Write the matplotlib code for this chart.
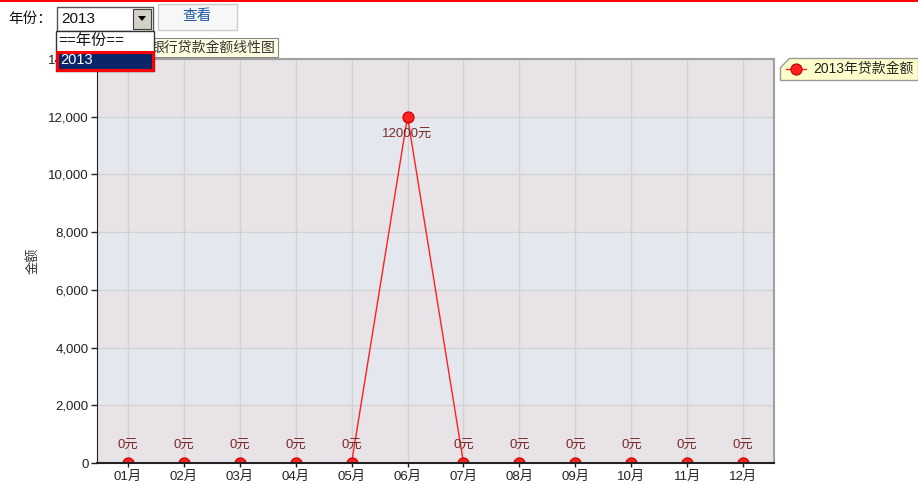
import matplotlib.pyplot as plt
from matplotlib.patches import Rectangle, Polygon
from matplotlib.lines import Line2D

plt.rcParams['font.family'] = ['Liberation Sans', 'Noto Sans CJK SC', 'DejaVu Sans']

# data
months = ['01月', '02月', '03月', '04月', '05月', '06月',
          '07月', '08月', '09月', '10月', '11月', '12月']
loan_2013 = [0, 0, 0, 0, 0, 12000, 0, 0, 0, 0, 0, 0]
y_ticks = [0, 2000, 4000, 6000, 8000, 10000, 12000, 14000]
series_name = '2013年贷款金额'

W, H = 918, 484
fig = plt.figure(figsize=(W / 100, H / 100), dpi=100)
fig.patch.set_facecolor('white')


def fx(px):
    return px / W


def fy(py):
    return 1 - py / H


ax = fig.add_axes([fx(97), fy(463), fx(774) - fx(97), fy(59) - fy(463)])
x = list(range(len(months)))

# alternating bands
for i in range(len(y_ticks) - 1):
    col = '#e8e3e7' if i % 2 == 0 else '#e4e8ee'
    ax.axhspan(y_ticks[i], y_ticks[i + 1], color=col, lw=0, zorder=0)

ax.set_xlim(-0.55, 11.55)
ax.set_ylim(0, 14000)
ax.set_xticks(x)
ax.set_xticklabels(months)
ax.set_yticks(y_ticks)
ax.set_yticklabels([f'{v:,}' for v in y_ticks])
ax.grid(True, color='#d2d2d2', lw=1, zorder=1)
ax.set_axisbelow(True)
ax.tick_params(axis='both', labelsize=9.5, colors='#222222', length=4, width=1)
ax.tick_params(axis='y', pad=2)
ax.tick_params(axis='x', length=3, pad=3)
for s in ('top', 'right'):
    ax.spines[s].set_color('#a0a0a0')
    ax.spines[s].set_linewidth(1.5)
ax.spines['left'].set_color('#222222')
ax.spines['bottom'].set_color('#222222')
ax.spines['bottom'].set_linewidth(1.5)
for s in ax.spines.values():
    s.set_zorder(4)
ax.set_ylabel('金额', fontsize=9.5, color='#333333', labelpad=6)

# line below the axis line, markers above it (clipped to the plot area)
ax.plot(x, loan_2013, color='#ff2020', lw=1, zorder=2)
ax.scatter(x, loan_2013, s=64, color='#ff2020', edgecolors='#c00000',
           linewidths=0.8, zorder=3)

for xi, v in zip(x, loan_2013):
    dy = -12.5 if v > 0 else 13
    ax.annotate(f'{v}元', (xi, v), xytext=(0, dy), textcoords='offset points',
                ha='center', va='center', fontsize=9.5, color='#7a2a2a', zorder=4)

# legend box
leg_poly = Polygon([(fx(789), fy(58)), (fx(918), fy(58)), (fx(918), fy(80)),
                    (fx(780), fy(80)), (fx(780), fy(67))],
                   closed=True, transform=fig.transFigure, facecolor='#ffffcc',
                   edgecolor='#999999', lw=1, zorder=5)
fig.patches.append(leg_poly)
fig.lines.append(Line2D([fx(786), fx(806)], [fy(69), fy(69)], transform=fig.transFigure,
                        color='#ff2020', lw=1, zorder=6))
fig.lines.append(Line2D([fx(796)], [fy(69)], transform=fig.transFigure, marker='o',
                        ms=8, mfc='#ff2020', mec='#c00000', mew=0.8, lw=0, zorder=7))
fig.text(fx(813), fy(69), series_name, fontsize=10, color='#222222',
         va='center', ha='left', zorder=7)

# top red rule
fig.patches.append(Rectangle((0, fy(2)), 1, fy(0) - fy(2), transform=fig.transFigure,
                             facecolor='#ff0000', lw=0, zorder=5))

# tooltip title
fig.patches.append(Rectangle((fx(130), fy(57)), fx(278) - fx(130), fy(38) - fy(57),
                             transform=fig.transFigure, facecolor='#ffffe1',
                             edgecolor='#888888', lw=0.8, zorder=5))
fig.text(fx(275), fy(47.5), '银行贷款金额线性图', fontsize=10, color='#333333',
         ha='right', va='center', zorder=6)

# year label, select box, button
fig.text(fx(8), fy(19), '年份：', fontsize=10.5, color='#111111', va='center', zorder=6)
fig.patches.append(Rectangle((fx(57), fy(31)), fx(153) - fx(57), fy(7) - fy(31),
                             transform=fig.transFigure, facecolor='white',
                             edgecolor='#555555', lw=1, zorder=5))
fig.text(fx(61), fy(19), '2013', fontsize=11, color='#111111', va='center', zorder=6)
fig.patches.append(Rectangle((fx(133), fy(29)), fx(151) - fx(133), fy(9) - fy(29),
                             transform=fig.transFigure, facecolor='#d4d0c8',
                             edgecolor='#404040', lw=0.8, zorder=6))
fig.patches.append(Polygon([(fx(138), fy(16)), (fx(146), fy(16)), (fx(142), fy(21))],
                           closed=True, transform=fig.transFigure, facecolor='black',
                           lw=0, zorder=7))
fig.patches.append(Rectangle((fx(158), fy(30)), fx(237) - fx(158), fy(4) - fy(30),
                             transform=fig.transFigure, facecolor='#f7f7f7',
                             edgecolor='#cccccc', lw=1, zorder=5))
fig.text(fx(197), fy(16), '查看', fontsize=10.5, color='#1a5aa0', ha='center',
         va='center', zorder=6)

# dropdown list
fig.patches.append(Rectangle((fx(56), fy(71)), fx(154) - fx(56), fy(31) - fy(71),
                             transform=fig.transFigure, facecolor='white',
                             edgecolor='#333333', lw=1, zorder=8))
fig.text(fx(58), fy(41), '==年份==', fontsize=11, color='#111111', va='center', zorder=9)
fig.patches.append(Rectangle((fx(57), fy(69.5)), fx(153) - fx(57), fy(51.5) - fy(69.5),
                             transform=fig.transFigure, facecolor='#0a246a',
                             edgecolor='#ff0000', lw=2.2, zorder=9))
fig.text(fx(60), fy(60.5), '2013', fontsize=10.5, color='white', va='center', zorder=10)

fig.savefig('out.png', dpi=100)
